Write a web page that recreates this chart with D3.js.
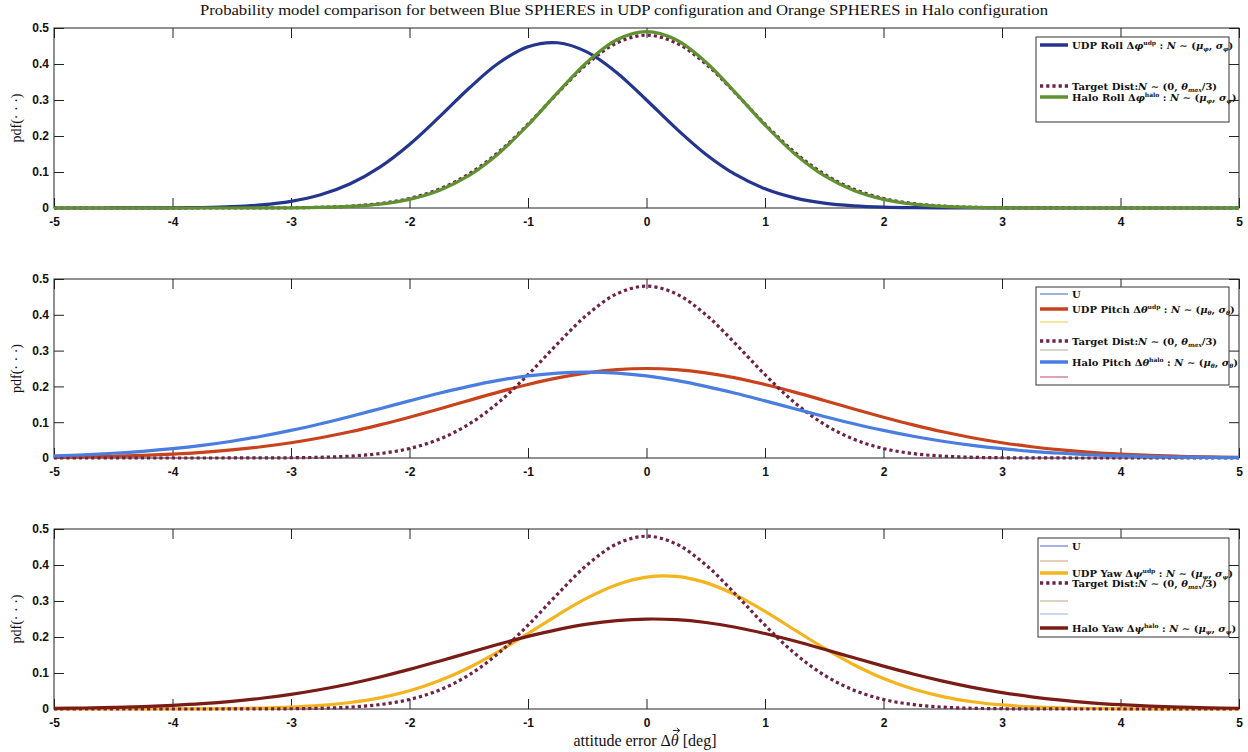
<html>
<script src="https://d3js.org/d3.v7.min.js"></script>
<style>
body { margin: 0; background: #fff; }
.tick text { font-family: "Liberation Sans", Arial, sans-serif; font-weight: bold; font-size: 12px; fill: #111; }
.tick line { stroke: #222; }
.serif { font-family: "Liberation Serif", "DejaVu Serif", serif; fill: #111; }
.lg { font-family: "DejaVu Serif", "Liberation Serif", serif; font-weight: bold; fill: #111; }
</style>
<body>
<svg width="1248" height="752"></svg>
<script>
// sample points along the attitude error axis [deg]
const xVals = [-5,-4.75,-4.5,-4.25,-4,-3.75,-3.5,-3.25,-3,-2.75,-2.5,-2.25,-2,-1.75,-1.5,-1.25,-1,-0.75,-0.5,-0.25,
  0,0.25,0.5,0.75,1,1.25,1.5,1.75,2,2.25,2.5,2.75,3,3.25,3.5,3.75,4,4.25,4.5,4.75,5];

// pdf values
const udpRoll = [0,0,0.0001,0.0002,0.0005,0.0014,0.0036,0.0085,0.0184,0.0367,0.0672,0.1135,0.1765,0.2524,0.332,0.402,0.448,0.459,0.433,0.376,
  0.300,0.221,0.1495,0.0931,0.0533,0.0281,0.0136,0.0061,0.0025,0.0009,0.0003,0.0001,0,0,0,0,0,0,0,0,0];
const targetDist = [0,0,0,0,0,0,0.0001,0.0002,0.0007,0.002,0.0052,0.0123,0.0265,0.0523,0.0941,0.1548,0.2327,0.3194,0.4005,0.4587,
  0.48,0.4587,0.4005,0.3194,0.2327,0.1548,0.0941,0.0523,0.0265,0.0123,0.0052,0.002,0.0007,0.0002,0.0001,0,0,0,0,0,0];
const haloRoll = [0,0,0,0,0,0,0,0.0002,0.0005,0.0016,0.0044,0.0107,0.024,0.0486,0.0897,0.1507,0.2304,0.3205,0.4057,0.4674,
  0.49,0.4674,0.4057,0.3205,0.2304,0.1507,0.0897,0.0486,0.024,0.0107,0.0044,0.0016,0.0005,0.0002,0,0,0,0,0,0,0];
const udpPitch = [0.0018,0.003,0.0047,0.0072,0.0108,0.0158,0.0226,0.0315,0.0427,0.0567,0.0733,0.0926,0.114,0.137,0.1607,0.184,0.2054,0.2239,0.238,0.247,
  0.25,0.247,0.238,0.2239,0.2054,0.184,0.1607,0.137,0.114,0.0926,0.0733,0.0567,0.0427,0.0315,0.0226,0.0158,0.0108,0.0072,0.0047,0.003,0.0018];
const haloPitch = [0.0061,0.009,0.0132,0.0187,0.026,0.0353,0.0469,0.0608,0.0772,0.0958,0.1161,0.1377,0.1595,0.1808,0.2002,0.2167,0.2293,0.2373,0.24,0.2373,
  0.2293,0.2167,0.2002,0.1808,0.1595,0.1377,0.1161,0.0958,0.0772,0.0608,0.0469,0.0353,0.026,0.0187,0.0132,0.009,0.0061,0.004,0.0026,0.0016,0.001];
const udpYaw = [0,0,0,0.0001,0.0002,0.0005,0.0012,0.0026,0.0052,0.0099,0.018,0.031,0.0506,0.0783,0.1147,0.1592,0.2095,0.2611,0.3085,0.3454,
  0.3664,0.3684,0.351,0.3169,0.2711,0.2198,0.1689,0.123,0.0848,0.0555,0.0344,0.0202,0.0112,0.0059,0.003,0.0014,0.0006,0.0003,0.0001,0,0];
const haloYaw = [0.0017,0.0028,0.0044,0.0068,0.0102,0.0149,0.0213,0.0298,0.0406,0.0541,0.0702,0.089,0.11,0.1328,0.1564,0.1797,0.2016,0.2206,0.2357,0.2456,
  0.2499,0.2481,0.2403,0.2272,0.2096,0.1887,0.1658,0.1422,0.119,0.0971,0.0774,0.0602,0.0457,0.0338,0.0245,0.0172,0.0119,0.008,0.0052,0.0033,0.0021];

const xTicks = [-5,-4,-3,-2,-1,0,1,2,3,4,5];
const yTicks = [0,0.1,0.2,0.3,0.4,0.5];

const titleText = "Probability model comparison for between Blue SPHERES in UDP configuration and Orange SPHERES in Halo configuration";
const rollLabels = ["UDP Roll Δ{i:φ}{sup:udp} : {i:N} ∼ ({i:μ}{sub:φ}, {i:σ}{sub:φ})",
  "Target Dist:{i:N} ∼ (0, {i:θ}{sub:max}/3)",
  "Halo Roll Δ{i:φ}{sup:halo} : {i:N} ∼ ({i:μ}{sub:φ}, {i:σ}{sub:φ})"];
const pitchLabels = ["U", "UDP Pitch Δ{i:θ}{sup:udp} : {i:N} ∼ ({i:μ}{sub:θ}, {i:σ}{sub:θ})", "",
  "Target Dist:{i:N} ∼ (0, {i:θ}{sub:max}/3)", "",
  "Halo Pitch Δ{i:θ}{sup:halo} : {i:N} ∼ ({i:μ}{sub:θ}, {i:σ}{sub:θ})", ""];
const yawLabels = ["U", "", "UDP Yaw Δ{i:ψ}{sup:udp} : {i:N} ∼ ({i:μ}{sub:ψ}, {i:σ}{sub:ψ})",
  "Target Dist:{i:N} ∼ (0, {i:θ}{sub:max}/3)", "", "",
  "Halo Yaw Δ{i:ψ}{sup:halo} : {i:N} ∼ ({i:μ}{sub:ψ}, {i:σ}{sub:ψ})"];

const C = {udpRoll:'#23358e', target:'#6e2246', haloRoll:'#5f9130', udpPitch:'#c8431c', haloPitch:'#4a7de0',
  udpYaw:'#f4b41e', haloYaw:'#7a1c16'};
const dotted = '3.2,3';

const panels = [
  {top: 28, bottom: 208,
   lines: [[udpRoll, C.udpRoll], [targetDist, C.target, dotted], [haloRoll, C.haloRoll]],
   legend: {x0: 1036, y0: 37, x1: 1229, y1: 122, rows: [
     [45, C.udpRoll, 3.5], [86, C.target, 3.5, dotted], [97, C.haloRoll, 3.5]], labels: rollLabels}},
  {top: 279, bottom: 458,
   lines: [[udpPitch, C.udpPitch], [targetDist, C.target, dotted], [haloPitch, C.haloPitch]],
   legend: {x0: 1036, y0: 287, x1: 1229, y1: 385, rows: [
     [294, '#4060c0', 1], [309, C.udpPitch, 3.5], [322, '#e8cc44', 1], [341, C.target, 3.5, dotted],
     [350, '#a8ae98', 1], [362, C.haloPitch, 3.5], [377, '#b84a66', 1]], labels: pitchLabels}},
  {top: 529, bottom: 709,
   lines: [[udpYaw, C.udpYaw], [targetDist, C.target, dotted], [haloYaw, C.haloYaw]],
   legend: {x0: 1038, y0: 538, x1: 1229, y1: 637, rows: [
     [546, '#5060c8', 1], [561, '#d09a70', 1], [573, C.udpYaw, 3.5], [583, C.target, 3.5, dotted],
     [601, '#b8a878', 1], [614, '#98b0e0', 1], [628, C.haloYaw, 3.5]], labels: yawLabels}}
];

const svg = d3.select('svg');
const x = d3.scaleLinear([-5, 5], [54, 1239]);

// small markup: {i:..} italic, {sup:..}, {sub:..}
function rich(sel, str, size) {
  const parts = str.split(/(\{(?:i|sup|sub):[^}]*\})/).filter(s => s.length);
  let shift = 0;
  parts.forEach(p => {
    const m = p.match(/^\{(i|sup|sub):(.*)\}$/);
    const ts = sel.append('tspan');
    let want = 0;
    if (m) {
      ts.text(m[2]);
      if (m[1] === 'i') ts.attr('font-style', 'italic');
      if (m[1] === 'sup') { ts.attr('font-size', size * 0.6); want = -size * 0.35; }
      if (m[1] === 'sub') { ts.attr('font-size', size * 0.6); ts.attr('font-style', 'italic'); want = size * 0.2; }
    } else ts.text(p);
    if (want !== shift) { ts.attr('dy', want - shift); shift = want; }
  });
}

panels.forEach((p, pi) => {
  const y = d3.scaleLinear([0, 0.5], [p.bottom, p.top]);
  const g = svg.append('g');

  g.append('clipPath').attr('id', 'clip' + pi)
    .append('rect').attr('x', x(-5)).attr('y', p.top - 2).attr('width', x(5) - x(-5)).attr('height', p.bottom - p.top + 4);

  const ax = (a, tr, labels) => {
    const s = g.append('g').attr('transform', tr).call(a.tickSizeOuter(0));
    s.select('.domain').remove();
    if (!labels) s.selectAll('text').remove();
  };
  ax(d3.axisBottom(x).tickValues(xTicks).tickSizeInner(-10).tickPadding(9).tickFormat(d => String(d)),
     `translate(0,${p.bottom})`, true);
  ax(d3.axisTop(x).tickValues(xTicks).tickSizeInner(-10), `translate(0,${p.top})`, false);
  ax(d3.axisLeft(y).tickValues(yTicks).tickSizeInner(-10).tickPadding(5).tickFormat(d => d === 0 ? '0' : d3.format('.1f')(d)),
     `translate(${x(-5)},0)`, true);
  ax(d3.axisRight(y).tickValues(yTicks).tickSizeInner(-10), `translate(${x(5)},0)`, false);

  g.append('rect').attr('x', x(-5)).attr('y', p.top).attr('width', x(5) - x(-5)).attr('height', p.bottom - p.top)
    .attr('fill', 'none').attr('stroke', '#222').attr('stroke-width', 1);

  const line = d3.line().x((d, i) => x(xVals[i])).y(d => y(d)).curve(d3.curveCatmullRom.alpha(0.5));
  p.lines.forEach(([vals, col, dash]) => {
    g.append('path').attr('clip-path', `url(#clip${pi})`).attr('d', line(vals))
      .attr('fill', 'none').attr('stroke', col).attr('stroke-width', 3.2)
      .attr('stroke-dasharray', dash || null);
  });

  g.append('text').attr('class', 'serif').attr('font-size', 14)
    .attr('transform', `translate(21,${(p.top + p.bottom) / 2}) rotate(-90)`)
    .attr('text-anchor', 'middle').text('pdf(· · ·)');

  const L = p.legend;
  const lg = g.append('g');
  lg.append('rect').attr('x', L.x0).attr('y', L.y0).attr('width', L.x1 - L.x0).attr('height', L.y1 - L.y0)
    .attr('fill', '#fff').attr('stroke', '#333').attr('stroke-width', 1);
  L.rows.forEach(([ry, col, w, dash], i) => {
    lg.append('line').attr('x1', 1040).attr('x2', 1068).attr('y1', ry).attr('y2', ry)
      .attr('stroke', col).attr('stroke-width', w).attr('stroke-dasharray', dash || null);
    if (!L.labels[i]) return;
    const t = lg.append('text').attr('class', 'lg').attr('font-size', 10)
      .attr('x', 1072).attr('y', ry + 3.5);
    rich(t, L.labels[i], 10);
  });
});

svg.append('text').attr('class', 'serif').attr('font-size', 14)
  .attr('x', 624).attr('y', 15).attr('text-anchor', 'middle')
  .attr('textLength', 848).attr('lengthAdjust', 'spacingAndGlyphs').text(titleText);

// x label; the vector arrow over theta is drawn as a small path
const xl = svg.append('text').attr('class', 'serif').attr('font-size', 16)
  .attr('x', 645).attr('y', 746).attr('text-anchor', 'middle');
xl.append('tspan').text('attitude error Δ');
xl.append('tspan').attr('font-style', 'italic').text('θ');
xl.append('tspan').text(' [deg]');
const th = xl.node().getExtentOfChar('attitude error Δ'.length);
const ax0 = th.x + 2, ax1 = th.x + th.width + 1, ay = th.y - 1.5;
svg.append('path')
  .attr('d', `M${ax0},${ay}H${ax1}M${ax1 - 3},${ay - 2.5}L${ax1},${ay}L${ax1 - 3},${ay + 2.5}`)
  .attr('fill', 'none').attr('stroke', '#111').attr('stroke-width', 0.9);
</script>
</body>
</html>
